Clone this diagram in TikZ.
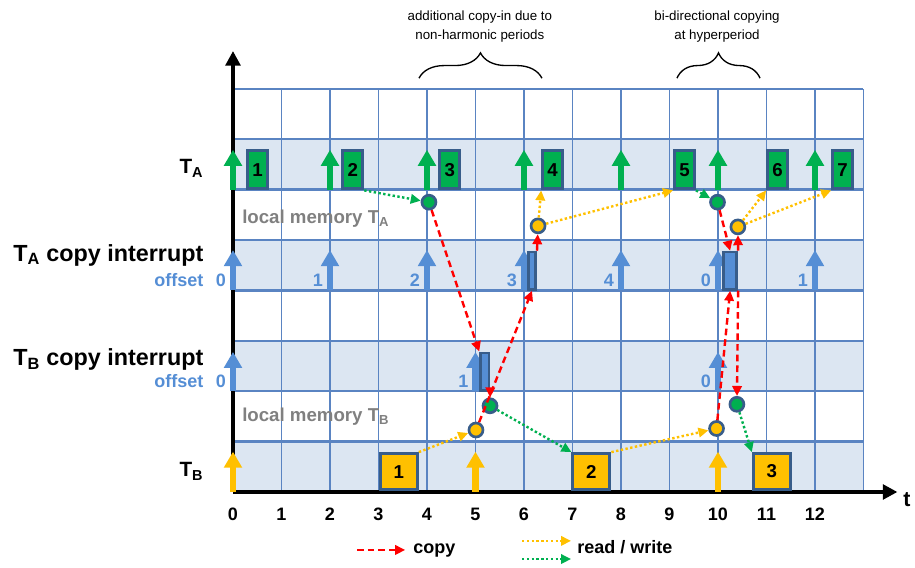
\documentclass[tikz,border=0pt]{standalone}
\usepackage{fontspec}
\setmainfont{Liberation Sans}
\usepackage{tikz}
\usetikzlibrary{arrows.meta,positioning,decorations.pathreplacing}

\definecolor{jobA}{RGB}{0,176,80}
\definecolor{jobB}{RGB}{255,192,0}
\definecolor{irq}{RGB}{85,142,213}
\definecolor{edge}{RGB}{56,93,138}
\definecolor{gridc}{RGB}{90,132,194}
\definecolor{rowc}{RGB}{220,230,242}
\definecolor{memc}{RGB}{128,128,128}

\begin{document}
\begin{tikzpicture}[
	x = 36.375pt, y = 37.8pt, % one time unit, one row
	thick, % line style
	font = \fontsize{13.5}{16}\selectfont\bfseries,
	JA/.style={rectangle, draw=edge, line width=2.2pt, fill=jobA, inner sep=0pt, minimum width=15pt, minimum height=28.5pt, font=\fontsize{14}{16}\selectfont\bfseries},
	JB/.style={JA, fill=jobB, minimum width=27.75pt, minimum height=27pt},
	CP/.style={rectangle, draw=edge, line width=2pt, fill=irq, inner sep=0pt, minimum height=28pt},
	M/.style={circle, draw=edge, line width=2pt, inner sep=0pt, minimum size=10.5pt},
	REL/.style={line width=4.8pt, -{Triangle[length=12pt,width=13pt]}},
	AX/.style={line width=3pt, -{Triangle[length=11pt,width=11pt]}},
	CPY/.style={red, line width=1.8pt, dash pattern=on 5pt off 3pt, -{Triangle[length=7.5pt,width=7pt]}},
	RW/.style={line width=1.8pt, dash pattern=on 1.8pt off 1.8pt, -{Triangle[length=7.5pt,width=7pt]}},
	LBL/.style={anchor=base east, inner sep=0pt, font=\fontsize{17.5}{20}\selectfont\bfseries},
	OFS/.style={anchor=base, inner sep=0pt, text=irq},
	]
	\useasboundingbox (-4.804,-1.508) rectangle (14.062,9.762);

	% Rows and grid
	\foreach \r in {0,2,4,6}
		\fill[rowc] (0,\r) rectangle (13,\r+1);
	\foreach \i in {1,...,13}
		\draw[gridc, line width=1.3pt] (\i,0) -- (\i,8);
	\foreach \j in {1,...,8}
		\draw[gridc, line width=1.9pt] (0,\j) -- (13,\j);

	% Axes
	\coordinate (O) at (0,0);
	\coordinate (ytop) at (0,8.75);
	\coordinate (xend) at (13.7,0);
	\draw[AX] (O) -- (ytop);
	\draw[AX] (O) -- (xend);
	\node[anchor=base west, inner sep=0pt, font=\fontsize{16}{18}\selectfont\bfseries] (t) [right=4pt of xend, yshift=-6pt] {t};
	\foreach \i in {0,...,12}
		\node[anchor=base, inner sep=0pt] (n\i) at (\i,-0.575) {\i};

	% Releases
	\foreach \t in {0,2,...,12}
		\draw[REL, jobA] (\t,6) -- (\t,6.79);
	\foreach \t in {0,2,...,12}
		\draw[REL, irq] (\t,4) -- (\t,4.8);
	\foreach \t in {0,5,10}
		\draw[REL, irq] (\t,2) -- (\t,2.78);
	\foreach \t in {0,5,10}
		\draw[REL, jobB] (\t,0) -- (\t,0.8);

	% Row labels
	\node[LBL, font=\fontsize{15.5}{18}\selectfont\bfseries] (lA) at (-0.6,6.31) {T\textsubscript{A}};
	\node[LBL] (lAc) at (-0.6,4.58) {T\textsubscript{A} copy interrupt};
	\node[OFS, anchor=base east] (lAo) at (-0.6,4.07) {offset};
	\node[LBL] (lBc) at (-0.6,2.5) {T\textsubscript{B} copy interrupt};
	\node[OFS, anchor=base east] (lBo) at (-0.6,2.07) {offset};
	\node[LBL, font=\fontsize{15.5}{18}\selectfont\bfseries] (lB) at (-0.6,0.3) {T\textsubscript{B}};
	\node[anchor=base west, inner sep=0pt, text=memc, font=\fontsize{14}{16}\selectfont\bfseries] (mA) at (0.18,5.32) {local memory T\textsubscript{A}};
	\node[anchor=base west, inner sep=0pt, text=memc, font=\fontsize{14}{16}\selectfont\bfseries] (mB) at (0.18,1.39) {local memory T\textsubscript{B}};

	% Offsets
	\foreach \t/\n in {0/0,2/1,4/2,6/3,8/4,10/0,12/1}
		\node[OFS] (oa\t) at (\t-0.25,4.07) {\n};
	\foreach \t/\n in {0/0,5/1,10/0}
		\node[OFS] (ob\t) at (\t-0.25,2.07) {\n};

	% Jobs
	\foreach \n/\t in {1/0.505,2/2.47,3/4.47,4/6.59,5/9.31,6/11.23,7/12.57}
		\node[JA] (a\n) at (\t,6.39) {\n};
	\foreach \n/\t in {1/3.42,2/7.39,3/11.11}
		\node[JB] (b\n) at (\t,0.405) {\n};

	% Copy handlers
	\node[CP, minimum width=5.5pt] (cpA1) at (6.165,4.39) {};
	\node[CP, minimum width=10pt] (cpA2) at (10.25,4.39) {};
	\node[CP, minimum width=6.25pt] (cpB1) at (5.19,2.39) {};

	% Memory
	\node[M, fill=jobA] (cA1) at (4.04,5.75) {};
	\node[M, fill=jobB] (cA2) at (6.29,5.28) {};
	\node[M, fill=jobA] (cA3) at (9.99,5.75) {};
	\node[M, fill=jobB] (cA4) at (10.41,5.26) {};
	\node[M, fill=jobB] (cB1) at (5.01,1.23) {};
	\node[M, fill=jobA] (cB2) at (5.30,1.71) {};
	\node[M, fill=jobB] (cB3) at (9.97,1.26) {};
	\node[M, fill=jobA] (cB4) at (10.39,1.74) {};

	% Paths connecting nodes
	\draw[RW, jobA] (a2.south east) -- (cA1);
	\draw[RW, jobA] (a5.south east) -- (cA3);
	\draw[RW, jobA] (cB2) -- (b2.north west);
	\draw[RW, jobA] (cB4) -- (b3.north west);
	\draw[RW, jobB] (b1.north east) -- (cB1);
	\draw[RW, jobB] (b2.north east) -- (cB3);
	\draw[RW, jobB] (cA2) -- (a4.south west);
	\draw[RW, jobB] (cA2) -- (a5.south west);
	\draw[RW, jobB] (cA4) -- (a6.south west);
	\draw[RW, jobB] (cA4) -- (a7.south west);
	\draw[CPY] (cA1) -- (cpB1.north west);
	\draw[CPY] (cpB1.south east) -- (cB2);
	\draw[CPY] (cB1) -- (cpA1.south);
	\draw[CPY] (cpA1.north east) -- (cA2);
	\draw[CPY] (cA3) -- (cpA2.north);
	\draw[CPY] (cpA2.north east) -- (cA4);
	\draw[CPY] (cB3) -- (cpA2.south);
	\draw[CPY] (cpA2.south east) -- (cB4);

	% Braces
	\coordinate (br1l) at (3.835,8.21);
	\coordinate (br1r) at (6.37,8.21);
	\coordinate (br2l) at (9.155,8.21);
	\coordinate (br2r) at (10.866,8.21);
	\draw[line width=1pt, decorate, decoration={brace, amplitude=19pt}] (br1l) -- (br1r);
	\draw[line width=1pt, decorate, decoration={brace, amplitude=19pt}] (br2l) -- (br2r);
	\node[align=center, inner sep=0pt, font=\fontsize{10}{14.25}\selectfont] (note1) at (5.09,9.24) {additional copy-in due to\\non-harmonic periods};
	\node[align=center, inner sep=0pt, font=\fontsize{10}{14.25}\selectfont] (note2) at (9.98,9.24) {bi-directional copying\\at hyperperiod};

	% Legend
	\coordinate (k1) at (2.56,-1.15);
	\coordinate (k2) at (3.55,-1.15);
	\coordinate (k3) at (5.96,-0.97);
	\coordinate (k4) at (6.97,-0.97);
	\coordinate (k5) at (5.96,-1.33);
	\coordinate (k6) at (6.97,-1.33);
	\draw[CPY] (k1) -- (k2);
	\draw[RW, jobB] (k3) -- (k4);
	\draw[RW, jobA] (k5) -- (k6);
	\node[anchor=base west, inner sep=0pt] (kcopy) at (3.71,-1.23) {copy};
	\node[anchor=base west, inner sep=0pt] (krw) at (7.09,-1.23) {read / write};

\end{tikzpicture}
\end{document}
